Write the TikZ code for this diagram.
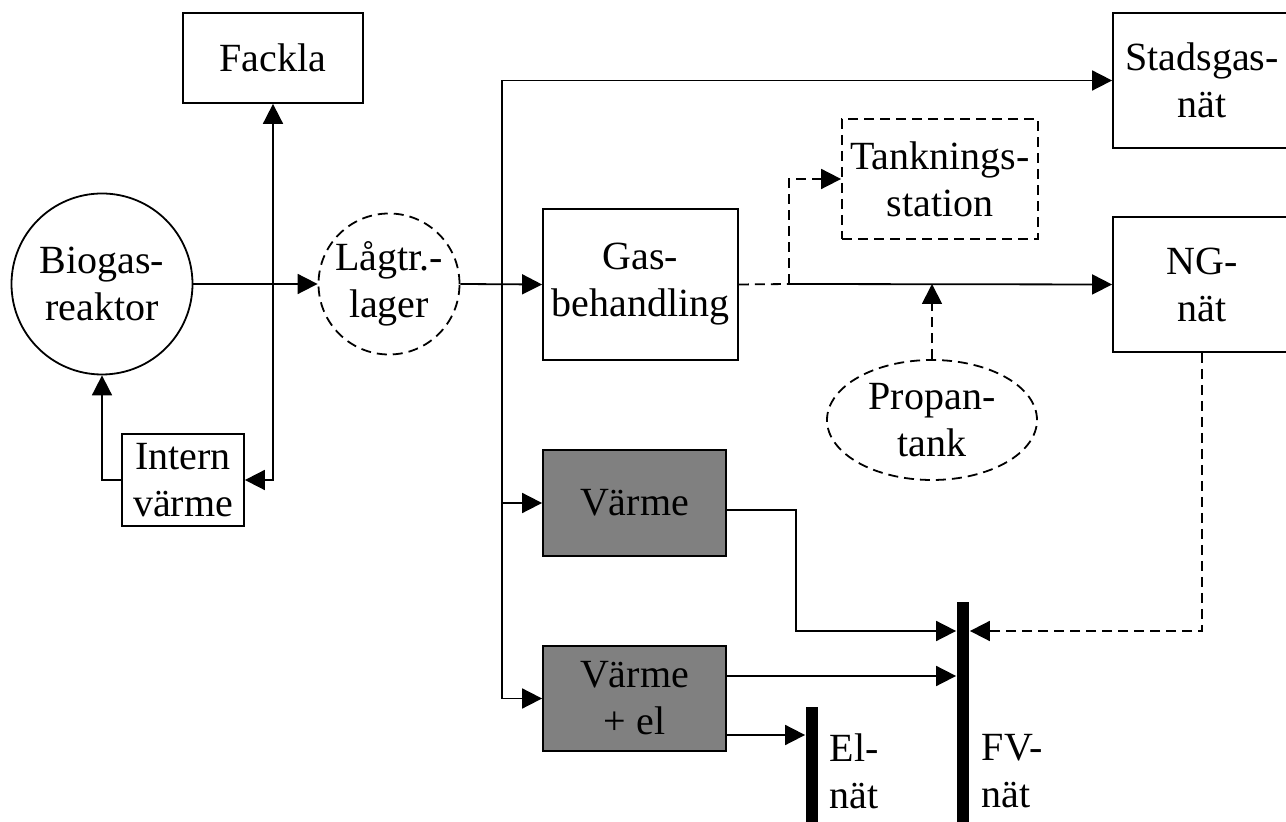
\documentclass[tikz,border=0pt]{standalone}
\usepackage{fontspec}
\setmainfont{Liberation Serif}
\usetikzlibrary{arrows.meta,shapes.geometric}
\begin{document}
\begin{tikzpicture}[
    x=0.5pt, y=-0.5pt,
    font=\fontsize{20}{23.5}\selectfont,
    line width=0.9pt,
    box/.style={draw, align=center, inner sep=0pt},
    grey/.style={box, fill=gray},
    dbox/.style={box, dash pattern=on 5pt off 3pt},
    rnd/.style={circle, draw, align=center, inner sep=0pt},
    drnd/.style={rnd, dash pattern=on 5pt off 3pt},
    bar/.style={fill=black, inner sep=0pt, minimum width=6pt},
    arr/.style={-{Triangle[length=10pt,width=10pt]}},
    dsh/.style={dash pattern=on 5pt off 3pt}]
  \useasboundingbox (0,0) rectangle (1286,822);
  % reactor, flare and internal heat
  \node[rnd, minimum size=90.5pt] (bio) at (102,284) {Biogas-\\reaktor};
  \node[box, minimum width=90pt, minimum height=45pt] (fackla) at (273,58) {Fackla};
  \node[box, minimum width=61pt, minimum height=46pt] (intern) at (183,480) {Intern\\värme};
  \node[drnd, minimum size=70.5pt] (lager) at (389,284) {Lågtr.-\\lager};
  % gas routes
  \node[box, minimum width=97.5pt, minimum height=75.5pt] (gas) at (640.5,284.5) {Gas-\\behandling};
  \node[dbox, minimum width=98pt, minimum height=60pt] (tank) at (940,179) {Tanknings-\\station};
  \node[box, minimum width=89pt, minimum height=67.5pt] (stad) at (1202,80.5) {Stadsgas-\\nät};
  \node[box, minimum width=89pt, minimum height=67.5pt] (ng) at (1202,284.5) {NG-\\nät};
  \node[ellipse, draw, dsh, align=center, inner sep=0pt, minimum width=105pt,
        minimum height=60pt] (propan) at (932,420) {Propan-\\tank};
  % heat and power
  \node[grey, minimum width=91.5pt, minimum height=53pt] (vrm) at (634.5,503) {Värme};
  \node[grey, minimum width=91.5pt, minimum height=52.5pt] (vel) at (634.5,698.5) {Värme\\+ el};
  \node[bar, minimum height=59.5pt] (el) at (812,766.5) {};
  \node[bar, minimum height=112pt] (fv) at (963,714) {};
  \node[anchor=west, align=left, inner sep=0pt] (eltxt) at (829,771) {El-\\nät};
  \node[anchor=west, align=left, inner sep=0pt] (fvtxt) at (981,771) {FV-\\nät};
  % junctions
  \coordinate (fk) at (273,284);
  \coordinate (sp) at (502,284);
  \coordinate (tk) at (789,284);
  \coordinate (pj) at (932,284);
  % connectors
  \draw[arr] (bio) -- (lager);
  \draw[arr] (fk) -- (fackla.south);
  \draw[arr] (fk) |- (intern.east);
  \draw[arr] (intern.west) -| (bio.south);
  \draw[arr] (lager.east) -- (gas.west);
  \draw[arr] (sp) |- (stad.west);
  \draw[arr] (sp) |- (vrm.west);
  \draw[arr] (sp) |- (vel.west);
  \draw[dsh] (gas.east) -- (tk);
  \draw[arr, dsh] (tk) |- (tank.west);
  \draw[arr] (tk) -- (ng.west);
  \draw[arr, dsh] (propan.north) -- (pj);
  \draw[arr] (vrm.east |- 0,510) -| (796,631) -- (fv.west |- 0,631);
  \draw[arr, dsh] (ng.south) |- (fv.east |- 0,631);
  \draw[arr] (vel.east |- 0,676) -- (fv.west |- 0,676);
  \draw[arr] (vel.east |- 0,735) -- (el.west |- 0,735);
\end{tikzpicture}
\end{document}
